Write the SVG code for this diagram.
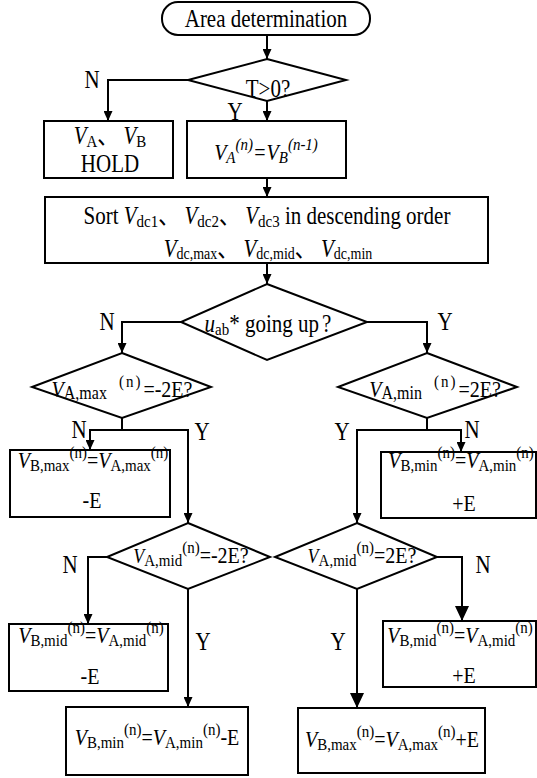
<svg xmlns="http://www.w3.org/2000/svg" width="537" height="778" viewBox="0 0 537 778">
<style>
.t{font-family:"Liberation Serif","Times New Roman",serif;font-size:21px;fill:#000;text-anchor:middle}
.f{font-size:20px}
.g{font-size:18px}
.i{font-style:italic}
.s{font-size:15px}
.s2{font-size:16px}
.s3{font-size:14px}
.c{font-family:"Noto Sans CJK SC","Liberation Serif",serif}
.shape{fill:#fff;stroke:#000;stroke-width:2}
.ln{fill:none;stroke:#000;stroke-width:2}
</style>
<defs>
<marker id="a" markerUnits="userSpaceOnUse" markerWidth="10" markerHeight="9" refX="10" refY="4.5" orient="auto"><path d="M0,0 L10,4.5 L0,9 z" fill="#000"/></marker>
<marker id="b" markerUnits="userSpaceOnUse" markerWidth="15" markerHeight="14" refX="15" refY="7" orient="auto"><path d="M0,0 L15,7 L0,14 z" fill="#000"/></marker>
</defs>
<rect width="537" height="778" fill="#fff"/>
<g id="connectors">
<path class="ln" d="M267,35 V59" marker-end="url(#a)"/>
<path class="ln" d="M188,80 H108 V121" marker-end="url(#a)"/>
<path class="ln" d="M267,101 V121" marker-end="url(#a)"/>
<path class="ln" d="M267,178 V197" marker-end="url(#a)"/>
<path class="ln" d="M267,263 V284" marker-end="url(#a)"/>
<path class="ln" d="M181,322 H122 V353" marker-end="url(#a)"/>
<path class="ln" d="M367,322 H427 V353" marker-end="url(#a)"/>
<path class="ln" d="M122,418 V430"/>
<path class="ln" d="M122,430 H90 V450" marker-end="url(#a)"/>
<path class="ln" d="M122,430 H188 V523" marker-end="url(#a)"/>
<path class="ln" d="M427,418 V430"/>
<path class="ln" d="M427,430 H461 V452" marker-end="url(#a)"/>
<path class="ln" d="M427,430 H357 V523" marker-end="url(#a)"/>
<path class="ln" d="M107,557 H88 V624" marker-end="url(#a)"/>
<path class="ln" d="M188,589 V707" marker-end="url(#a)"/>
<path class="ln" d="M437,557 H462 V621" marker-end="url(#b)"/>
<path class="ln" d="M357,589 V708" marker-end="url(#b)"/>
<text class="t" transform="scale(1,1.15)" x="92" y="76.52">N</text>
<text class="t" transform="scale(1,1.15)" x="235" y="104.35">Y</text>
<text class="t" transform="scale(1,1.15)" x="107" y="286.96">N</text>
<text class="t" transform="scale(1,1.15)" x="445" y="286.96">Y</text>
<text class="t" transform="scale(1,1.15)" x="79" y="380.87">N</text>
<text class="t" transform="scale(1,1.15)" x="202" y="382.61">Y</text>
<text class="t" transform="scale(1,1.15)" x="342" y="382.61">Y</text>
<text class="t" transform="scale(1,1.15)" x="472" y="380.87">N</text>
<text class="t" transform="scale(1,1.15)" x="70" y="498.26">N</text>
<text class="t" transform="scale(1,1.15)" x="203" y="565.22">Y</text>
<text class="t" transform="scale(1,1.15)" x="483" y="498.26">N</text>
<text class="t" transform="scale(1,1.15)" x="338" y="565.22">Y</text>
</g>
<g id="start">
<rect class="shape" x="162" y="2" width="208" height="33" rx="16" ry="16"/>
<text class="t" transform="scale(1,1.15)" x="266" y="23.48">Area determination</text>
</g>
<g id="dec-t">
<polygon class="shape" points="267,59 346,80 267,101 188,80"/>
<text class="t" transform="scale(1,1.15)" x="268" y="84.35">T&gt;0?</text>
</g>
<g id="hold">
<rect class="shape" x="44" y="121" width="129" height="57"/>
<text class="t" transform="scale(1,1.15)" x="110" y="125.22"><tspan class="i">V</tspan><tspan class="s" dy="3">A</tspan><tspan class="c" dy="-3">、</tspan><tspan> </tspan><tspan class="i">V</tspan><tspan class="s" dy="3">B</tspan></text>
<text class="t" transform="scale(1,1.15)" x="110" y="149.57">HOLD</text>
</g>
<g id="assign">
<rect class="shape" x="187" y="121" width="159" height="57"/>
<text class="t f i" transform="scale(1,1.15)" x="266" y="139.13"><tspan>V</tspan><tspan class="s" dy="3">A</tspan><tspan class="s" dy="-12">(n)</tspan><tspan dy="9">=</tspan><tspan>V</tspan><tspan class="s" dy="3">B</tspan><tspan class="s" dy="-12">(n-1)</tspan></text>
</g>
<g id="sort">
<rect class="shape" x="45" y="197" width="443" height="66"/>
<text class="t" transform="scale(1,1.15)" x="267" y="194.78">Sort <tspan class="i">V</tspan><tspan class="s" dy="3">dc1</tspan><tspan class="c" dy="-3">、</tspan><tspan> </tspan><tspan class="i">V</tspan><tspan class="s" dy="3">dc2</tspan><tspan class="c" dy="-3">、</tspan><tspan> </tspan><tspan class="i">V</tspan><tspan class="s" dy="3">dc3</tspan><tspan dy="-3"> in descending order</tspan></text>
<text class="t" transform="scale(1,1.15)" x="268" y="223.48"><tspan class="i">V</tspan><tspan class="s3" dy="2">dc,max</tspan><tspan class="c" dy="-2">、</tspan><tspan> </tspan><tspan class="i">V</tspan><tspan class="s3" dy="2">dc,mid</tspan><tspan class="c" dy="-2">、</tspan><tspan> </tspan><tspan class="i">V</tspan><tspan class="s3" dy="2">dc,min</tspan></text>
</g>
<g id="dec-up">
<polygon class="shape" points="267,284 367,322 267,360 181,322"/>
<text class="t" transform="scale(1,1.15)" x="268" y="288.70"><tspan class="i">u</tspan><tspan class="s" dy="3">ab</tspan><tspan dy="-3">* going up</tspan><tspan dx="3">?</tspan></text>
</g>
<g id="dec-amax">
<polygon class="shape" points="122,353 211,387 122,418 32,387"/>
<text class="t f" transform="scale(1,1.15)" x="122" y="345.22"><tspan class="i">V</tspan><tspan class="s2" dy="2">A,max</tspan><tspan class="s" dx="12" dy="-11" letter-spacing="2">(n)</tspan><tspan dx="1" dy="9">=-2E?</tspan></text>
</g>
<g id="dec-amin">
<polygon class="shape" points="427,353 517,387 427,418 338,387"/>
<text class="t f" transform="scale(1,1.15)" x="435" y="345.22"><tspan class="i">V</tspan><tspan class="s2" dy="2">A,min</tspan><tspan class="s" dx="12" dy="-11" letter-spacing="2">(n)</tspan><tspan dx="1" dy="9">=2E?</tspan></text>
</g>
<g id="bmax">
<rect class="shape" x="10" y="450" width="160" height="67"/>
<text class="t f" transform="scale(1,1.15)" x="93" y="406.96"><tspan class="i">V</tspan><tspan class="s" dy="3">B,max</tspan><tspan class="s" dy="-12">(n)</tspan><tspan dy="9">=</tspan><tspan class="i">V</tspan><tspan class="s" dy="3">A,max</tspan><tspan class="s" dy="-12">(n)</tspan></text>
<text class="t f" transform="scale(1,1.15)" x="92" y="441.74">-E</text>
</g>
<g id="bmin">
<rect class="shape" x="381" y="452" width="155" height="66"/>
<text class="t f" transform="scale(1,1.15)" x="461" y="406.96"><tspan class="i">V</tspan><tspan class="s" dy="3">B,min</tspan><tspan class="s" dy="-12">(n)</tspan><tspan dy="9">=</tspan><tspan class="i">V</tspan><tspan class="s" dy="3">A,min</tspan><tspan class="s" dy="-12">(n)</tspan></text>
<text class="t f" transform="scale(1,1.15)" x="464" y="444.35">+E</text>
</g>
<g id="dec-mid-l">
<polygon class="shape" points="188,523 270,557 188,589 107,557"/>
<text class="t g" transform="scale(1,1.15)" x="191" y="489.57"><tspan class="i">V</tspan><tspan class="s" dy="3">A,mid</tspan><tspan class="s" dy="-12">(n)</tspan><tspan class="f" dy="9">=-2E?</tspan></text>
</g>
<g id="dec-mid-r">
<polygon class="shape" points="357,523 437,557 357,589 275,557"/>
<text class="t g" transform="scale(1,1.15)" x="362" y="489.57"><tspan class="i">V</tspan><tspan class="s" dy="3">A,mid</tspan><tspan class="s" dy="-12">(n)</tspan><tspan class="f" dy="9">=2E?</tspan></text>
</g>
<g id="bmid-l">
<rect class="shape" x="9" y="624" width="159" height="67"/>
<text class="t f" transform="scale(1,1.15)" x="91" y="559.13"><tspan class="i">V</tspan><tspan class="s" dy="3">B,mid</tspan><tspan class="s" dy="-12">(n)</tspan><tspan dy="9">=</tspan><tspan class="i">V</tspan><tspan class="s" dy="3">A,mid</tspan><tspan class="s" dy="-12">(n)</tspan></text>
<text class="t f" transform="scale(1,1.15)" x="90" y="594.78">-E</text>
</g>
<g id="bmid-r">
<rect class="shape" x="383" y="621" width="153" height="66"/>
<text class="t f" transform="scale(1,1.15)" x="460" y="559.13"><tspan class="i">V</tspan><tspan class="s" dy="3">B,mid</tspan><tspan class="s" dy="-12">(n)</tspan><tspan dy="9">=</tspan><tspan class="i">V</tspan><tspan class="s" dy="3">A,mid</tspan><tspan class="s" dy="-12">(n)</tspan></text>
<text class="t f" transform="scale(1,1.15)" x="464" y="593.91">+E</text>
</g>
<g id="final-l">
<rect class="shape" x="66" y="707" width="182" height="68"/>
<text class="t f" transform="scale(1,1.15)" x="157" y="647.83"><tspan class="i">V</tspan><tspan class="s" dy="3">B,min</tspan><tspan class="s" dy="-12">(n)</tspan><tspan dy="9">=</tspan><tspan class="i">V</tspan><tspan class="s" dy="3">A,min</tspan><tspan class="s" dy="-12">(n)</tspan><tspan dy="9">-E</tspan></text>
</g>
<g id="final-r">
<rect class="shape" x="298" y="708" width="187" height="65"/>
<text class="t f" transform="scale(1,1.15)" x="392" y="649.57"><tspan class="i">V</tspan><tspan class="s" dy="3">B,max</tspan><tspan class="s" dy="-12">(n)</tspan><tspan dy="9">=</tspan><tspan class="i">V</tspan><tspan class="s" dy="3">A,max</tspan><tspan class="s" dy="-12">(n)</tspan><tspan dy="9">+E</tspan></text>
</g>
</svg>
